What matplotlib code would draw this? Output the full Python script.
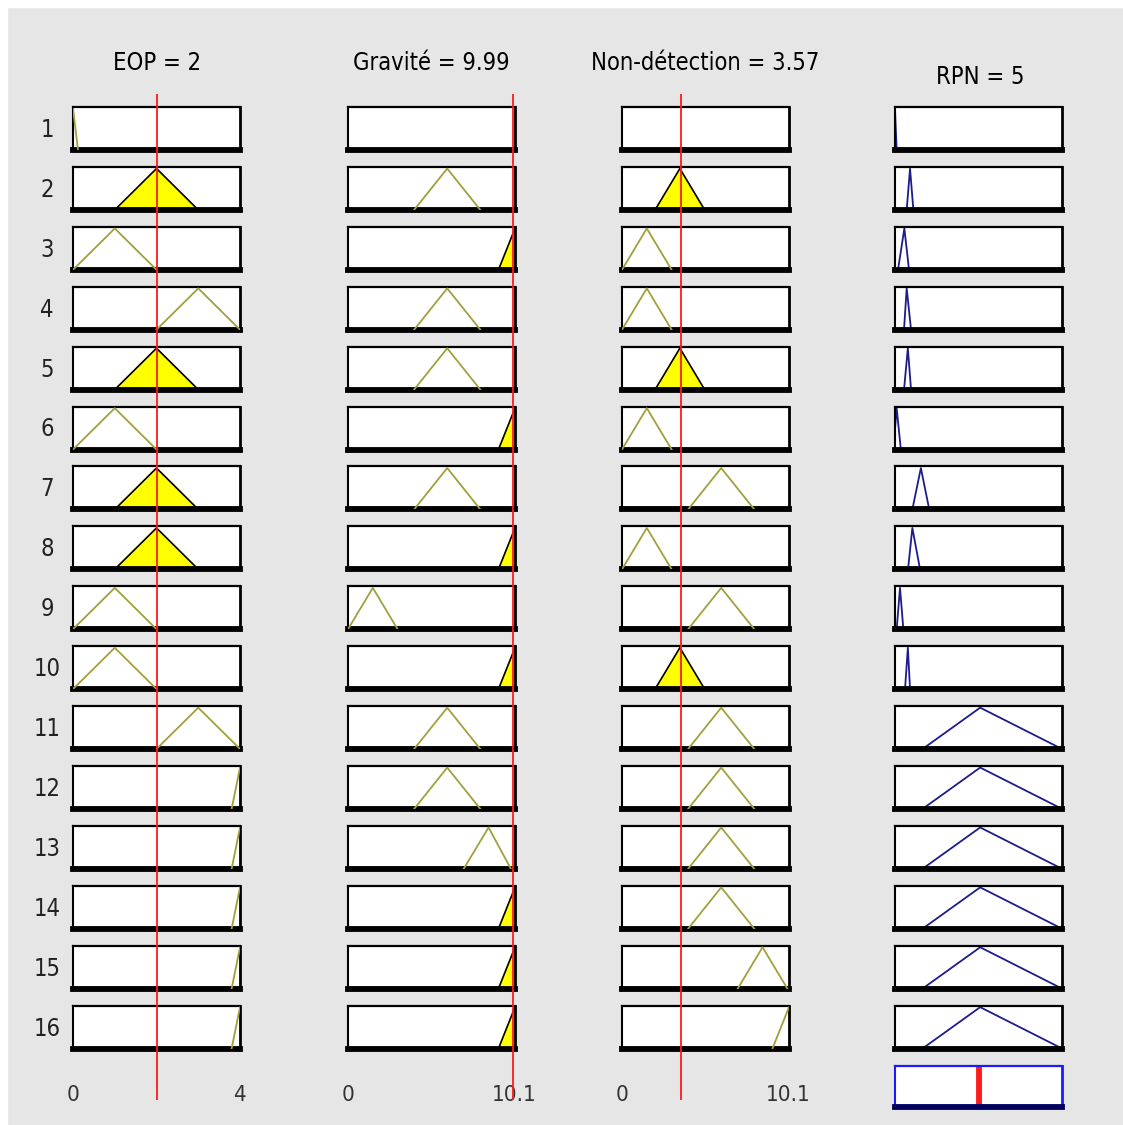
import matplotlib.pyplot as plt
from matplotlib.patches import Rectangle

plt.rcParams['font.family'] = ['DejaVu Sans']
plt.rcParams['font.stretch'] = 'condensed'

W, H = 1123, 1125

# --- data ---
titles = ["EOP = 2", "Gravité = 9.99", "Non-détection = 3.57", "RPN = 5"]
input_values = [2.0, 9.99, 3.57]
output_value = 5.0
ranges = [(0, 4), (0, 10.1), (0, 10.1), (0, 10)]
range_labels = [("0", "4"), ("0", "10.1"), ("0", "10.1")]
rule_ids = list(range(1, 17))

# triangular membership functions [a, b, c] used in each rule (None = not used)
eop_mf = [[-0.12, 0, 0.12], [1, 2, 3], [0, 1, 2], [2, 3, 4], [1, 2, 3], [0, 1, 2],
          [1, 2, 3], [1, 2, 3], [0, 1, 2], [0, 1, 2], [2, 3, 4], [3.8, 4, 4.2],
          [3.8, 4, 4.2], [3.8, 4, 4.2], [3.8, 4, 4.2], [3.8, 4, 4.2]]
grav_mf = [None, [4, 6, 8], [9.1, 10.1, 11.1], [4, 6, 8], [4, 6, 8], [9.1, 10.1, 11.1],
           [4, 6, 8], [9.1, 10.1, 11.1], [0, 1.5, 3], [9.1, 10.1, 11.1], [4, 6, 8],
           [4, 6, 8], [7, 8.5, 9.85], [9.1, 10.1, 11.1], [9.1, 10.1, 11.1], [9.1, 10.1, 11.1]]
nd_mf = [None, [2, 3.5, 5], [0, 1.5, 3], [0, 1.5, 3], [2, 3.5, 5], [0, 1.5, 3],
         [4, 6, 8], [0, 1.5, 3], [4, 6, 8], [2, 3.5, 5], [4, 6, 8], [4, 6, 8],
         [4, 6, 8], [4, 6, 8], [7, 8.5, 10], [9.1, 10.1, 11.1]]
rpn_mf = [[-0.1, 0, 0.1], [0.7, 0.9, 1.1], [0.18, 0.56, 0.84], [0.54, 0.7, 0.96],
          [0.54, 0.77, 0.96], [-0.1, 0.1, 0.35], [1.04, 1.55, 2.05], [0.78, 1.04, 1.5],
          [0.1, 0.3, 0.5], [0.6, 0.77, 0.9], [1.65, 5.1, 10], [1.65, 5.1, 10],
          [1.65, 5.1, 10], [1.65, 5.1, 10], [1.65, 5.1, 10], [1.65, 5.1, 10]]

OLIVE = "#a0a03c"
NAVY = "#1c1c8c"
RED = "#ff1a1a"

col_left = [73, 348, 622, 895]
col_width = 167
row_top0, row_pitch, row_h = 107, 59.9, 43


def frac(x0, top, w, h):
    return [x0 / W, 1 - (top + h) / H, w / W, h / H]


def tri(mf, x):
    a, b, c = mf
    if x <= a or x >= c:
        return 0.0
    return (x - a) / (b - a) if x <= b else (c - x) / (c - b)


def style_box(ax, edge="black", bottom="black"):
    ax.set_xticks([])
    ax.set_yticks([])
    ax.set_ylim(0, 1.04)
    for side, lw in [("top", 1.6), ("left", 1.5), ("right", 2.0), ("bottom", 4.2)]:
        ax.spines[side].set_linewidth(lw)
        ax.spines[side].set_color(edge if side != "bottom" else bottom)


fig = plt.figure(figsize=(W / 100, H / 100), dpi=100, facecolor="#e6e6e6")
fig.patches.append(Rectangle((0, 1 - 7 / H), 1, 7 / H, transform=fig.transFigure,
                             color="white", zorder=0))
fig.patches.append(Rectangle((0, 0), 7 / W, 1, transform=fig.transFigure,
                             color="white", zorder=0))

all_mfs = [eop_mf, grav_mf, nd_mf, rpn_mf]
for r in range(len(rule_ids)):
    top = row_top0 + r * row_pitch
    fig.text(47 / W, 1 - (top + 23) / H, str(rule_ids[r]), ha="center", va="center",
             fontsize=17, color="#222222")
    for c in range(4):
        ax = fig.add_axes(frac(col_left[c], top, col_width, row_h))
        lo, hi = ranges[c]
        ax.set_xlim(lo, hi)
        mf = all_mfs[c][r]
        style_box(ax, bottom="black")
        if mf is None:
            continue
        a, b, cc = mf
        xs = [min(lo, a), a, b, cc, max(hi, cc)]
        ys = [0, 0, 1, 0, 0]
        if c == 3:
            ax.plot(xs, ys, color=NAVY, lw=1.3, clip_on=True)
            continue
        if tri(mf, input_values[c]) > 0:
            ax.fill([a, b, cc], [0, 1, 0], color="#ffff00", zorder=2)
            ax.plot([a, b, cc], [0, 1, 0], color="black", lw=1.2, zorder=3)
        else:
            ax.plot([a, b, cc], [0, 1, 0], color=OLIVE, lw=1.3, zorder=3)

# aggregated output
agg = fig.add_axes(frac(895, 1066, col_width, 41))
agg.set_xlim(*ranges[3])
style_box(agg, edge="#1a1aff", bottom="#000060")
agg.axvline(output_value, color=RED, lw=4.2)

# input value lines spanning the column
for c in range(3):
    ov = fig.add_axes(frac(col_left[c], 94, col_width, 1006))
    ov.set_xlim(*ranges[c])
    ov.set_ylim(0, 1)
    ov.axis("off")
    ov.set_zorder(10)
    ov.axvline(input_values[c], color=RED, lw=1.3)

# titles
title_pos = [(157, 63), (431, 63), (705, 63), (980, 77)]
for t, (x, y) in zip(titles, title_pos):
    fig.text(x / W, 1 - y / H, t, ha="center", va="center", fontsize=17, color="black")

# range labels
for c in range(3):
    lo_lbl, hi_lbl = range_labels[c]
    fig.text(col_left[c] / W, 1 - 1095 / H, lo_lbl, ha="center", va="center",
             fontsize=16, color="#333333")
    fig.text((col_left[c] + col_width - 1) / W, 1 - 1095 / H, hi_lbl, ha="center",
             va="center", fontsize=16, color="#333333")

fig.savefig("out.png", dpi=100, facecolor=fig.get_facecolor())
